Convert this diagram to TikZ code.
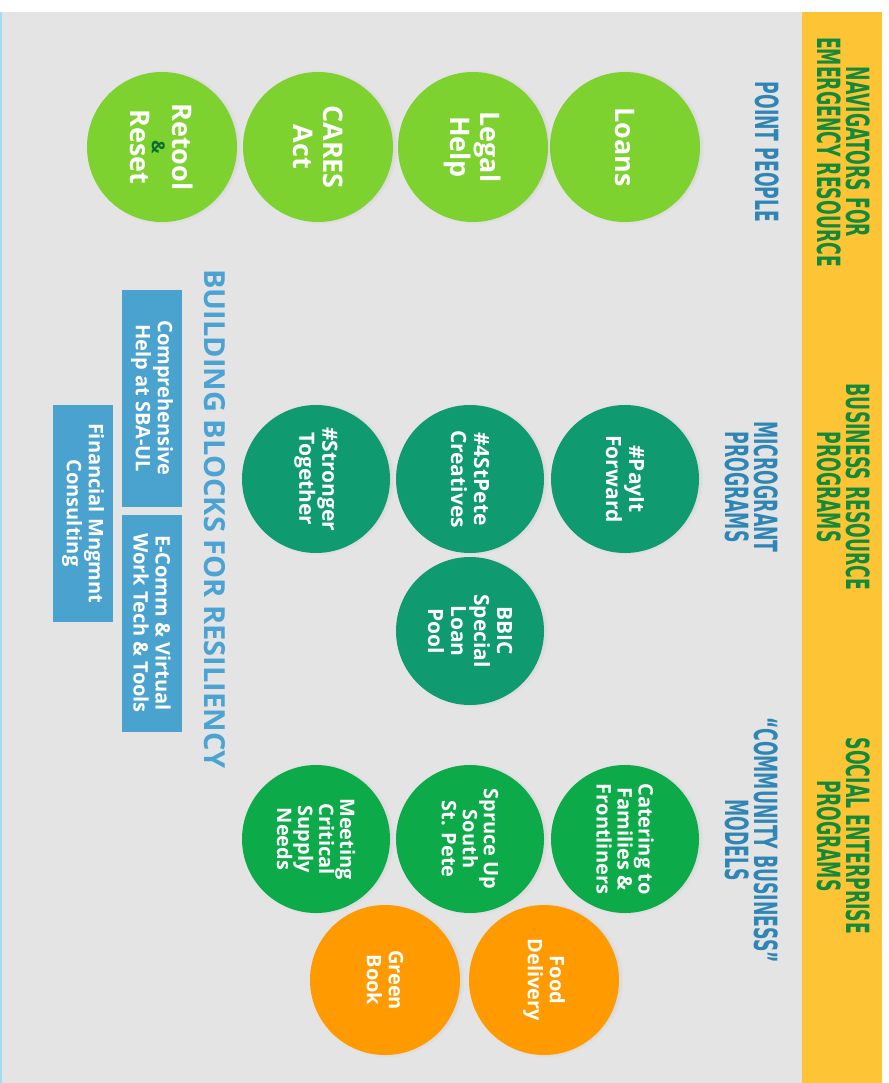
\documentclass[tikz,border=0pt]{standalone}
\usepackage{fontspec}
\setmainfont{Open Sans}
\newfontfamily\condfont[FakeStretch=0.6]{DejaVu Sans Condensed}
\usetikzlibrary{positioning,shadows}

\definecolor{panel}{HTML}{E4E4E4}
\definecolor{band}{HTML}{FDC536}
\definecolor{edgeblue}{HTML}{A6DAF0}
\definecolor{headgreen}{HTML}{14893A}
\definecolor{subblue}{HTML}{2F86B5}
\definecolor{titleblue}{HTML}{4AA3D3}
\definecolor{boxblue}{HTML}{4AA2CF}
\definecolor{lime}{HTML}{7DD22F}
\definecolor{tealgreen}{HTML}{0F9A70}
\definecolor{leafgreen}{HTML}{0CAA48}
\definecolor{amber}{HTML}{FF9A00}
\definecolor{deepgreen}{HTML}{0A6E35}

\begin{document}
\begin{tikzpicture}[x=1pt,y=-1pt,
    bubble/.style={circle, inner sep=0pt, minimum size=150pt, rotate=-90,
      align=center, text=white, font=\bfseries,
      circular drop shadow={shadow scale=1.03, shadow xshift=2pt,
        shadow yshift=0pt, opacity=.25}},
    point/.style={bubble, fill=lime, font=\bfseries\fontsize{27}{30}\selectfont},
    grant/.style={bubble, minimum size=148pt, fill=tealgreen,
      font=\bfseries\fontsize{21}{23}\selectfont},
    social/.style={bubble, minimum size=148pt, fill=leafgreen,
      font=\bfseries\fontsize{20}{21}\selectfont},
    extra/.style={bubble, fill=amber, font=\bfseries\fontsize{20}{22}\selectfont},
    block/.style={rectangle, fill=boxblue, minimum width=217pt, minimum height=60pt,
      inner sep=0pt, rotate=-90, align=center, text=white,
      font=\bfseries\fontsize{20}{22}\selectfont},
    head/.style={rotate=-90, align=center, text=headgreen,
      font=\condfont\bfseries\fontsize{32}{29}\selectfont},
    sub/.style={head, text=subblue}]
  % background and header band
  \fill[white] (0,0) rectangle (888,1083);
  \fill[panel] (0,12) rectangle (802,1083);
  \fill[band] (802,12) rectangle (882,1083);
  \fill[edgeblue] (0,12) rectangle (2,1083);
  % column headings
  \node[head] (navhead) at (844,152) {NAVIGATORS FOR\\EMERGENCY RESOURCE};
  \node[head] (bizhead) at (844,487) {BUSINESS RESOURCE\\PROGRAMS};
  \node[head] (sochead) at (844,836) {SOCIAL ENTERPRISE\\PROGRAMS};
  \node[sub] (pointsub) at (767,152) {POINT PEOPLE};
  \node[sub] (grantsub) at (752,487) {MICROGRANT\\PROGRAMS};
  \node[sub] (commsub) at (752,840) {“COMMUNITY BUSINESS”\\MODELS};
  % point people
  \node[point] (loans) at (625,147) {Loans};
  \node[point] (legal) at (473,147) {Legal\\Help};
  \node[point] (cares) at (318,147) {CARES\\Act};
  \node[point] (retool) at (162,147)
    {Retool\\[-9pt]{\color{deepgreen}\fontsize{18}{18}\selectfont\&}\\[-9pt]Reset};
  % microgrants
  \node[grant] (payit) at (625,479) {\#PayIt\\Forward};
  \node[grant] (stpete) at (470,479) {\#4StPete\\Creatives};
  \node[grant] (stronger) at (316,479) {\#Stronger\\Together};
  \node[grant] (bbic) at (470,631) {BBIC\\Special\\Loan\\Pool};
  % community business models
  \node[social] (catering) at (625,839) {Catering to\\Families \&\\Frontliners};
  \node[social] (spruce) at (470,839) {Spruce Up\\South\\St. Pete};
  \node[social] (meeting) at (316,839) {Meeting\\Critical\\Supply\\Needs};
  \node[extra] (food) at (544,980) {Food\\Delivery};
  \node[extra] (greenbook) at (385,980) {Green\\Book};
  % building blocks
  \node[rotate=-90, text=titleblue, font=\bfseries\fontsize{29}{30}\selectfont]
    (blocks) at (215,519) {BUILDING BLOCKS FOR RESILIENCY};
  \node[block] (sba) at (152,398) {Comprehensive\\Help at SBA-UL};
  \node[block] (ecomm) at (152,623) {E-Comm \& Virtual\\Work Tech \& Tools};
  \node[block] (finance) at (83,513) {Financial Mngmnt\\Consulting};
\end{tikzpicture}
\end{document}
